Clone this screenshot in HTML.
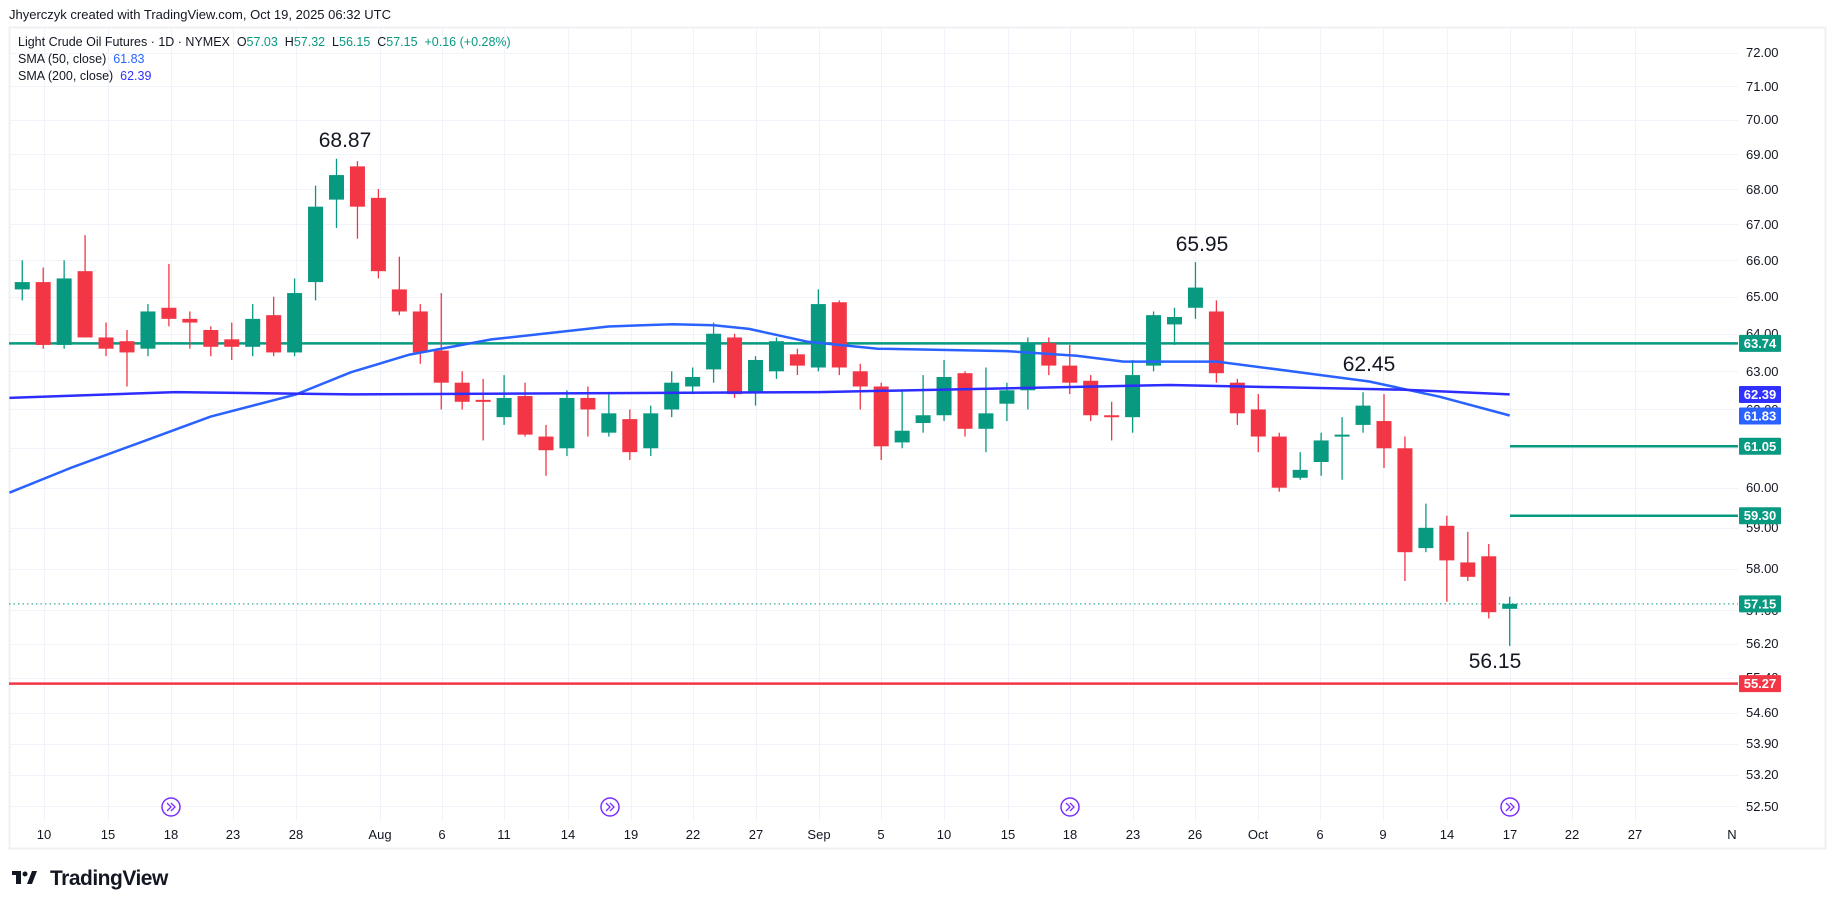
<!DOCTYPE html>
<html><head><meta charset="utf-8"><style>
html,body{margin:0;padding:0;background:#fff;}
svg{display:block;font-family:"Liberation Sans",sans-serif;}
.ax{font-size:13px;fill:#131722;}
.tag{font-size:13px;fill:#fff;font-weight:bold;}
.ann{font-size:21px;fill:#131722;}
.pre{white-space:pre;}
</style></head><body>
<svg id="s" width="1835" height="909" viewBox="0 0 1835 909" xmlns="http://www.w3.org/2000/svg">
<rect x="0" y="0" width="1835" height="909" fill="#fff"/>
<text x="9" y="19" font-size="13" fill="#131722">Jhyerczyk created with TradingView.com, Oct 19, 2025 06:32 UTC</text>
<rect x="9.5" y="27.5" width="1816" height="821" fill="none" stroke="#eef0f3" stroke-width="2"/>
<g id="grid" stroke="#f0f3fa" stroke-width="1"></g>
<g id="lines"></g>
<g id="candles"></g>
<g id="sma"></g>
<text class="pre" xml:space="preserve" x="18" y="46" font-size="12.5" fill="#131722">Light Crude Oil Futures · 1D · NYMEX  O<tspan fill="#089981">57.03</tspan>  H<tspan fill="#089981">57.32</tspan>  L<tspan fill="#089981">56.15</tspan>  C<tspan fill="#089981">57.15</tspan>  <tspan fill="#089981">+0.16 (+0.28%)</tspan></text>
<text class="pre" xml:space="preserve" x="18" y="63" font-size="12.5" fill="#131722">SMA (50, close)  <tspan fill="#2962ff">61.83</tspan></text>
<text class="pre" xml:space="preserve" x="18" y="80" font-size="12.5" fill="#131722">SMA (200, close)  <tspan fill="#3030ff">62.39</tspan></text>
<text class="ann" x="345" y="147" text-anchor="middle">68.87</text>
<text class="ann" x="1202" y="251" text-anchor="middle">65.95</text>
<text class="ann" x="1369" y="371" text-anchor="middle">62.45</text>
<text class="ann" x="1495" y="668" text-anchor="middle">56.15</text>
<g class="ax">
<text x="1746" y="57">72.00</text><text x="1746" y="91">71.00</text><text x="1746" y="124">70.00</text>
<text x="1746" y="159">69.00</text><text x="1746" y="194">68.00</text><text x="1746" y="229">67.00</text>
<text x="1746" y="265">66.00</text><text x="1746" y="301">65.00</text><text x="1746" y="338">64.00</text>
<text x="1746" y="376">63.00</text><text x="1746" y="414">62.00</text><text x="1746" y="453">61.00</text>
<text x="1746" y="492">60.00</text><text x="1746" y="532">59.00</text><text x="1746" y="573">58.00</text>
<text x="1746" y="615">57.00</text><text x="1746" y="648">56.20</text><text x="1746" y="682">55.40</text>
<text x="1746" y="717">54.60</text><text x="1746" y="748">53.90</text><text x="1746" y="779">53.20</text>
<text x="1746" y="811">52.50</text>
</g>
<g id="tags"></g>
<g class="ax" text-anchor="middle" id="dates">
<text x="44" y="839">10</text><text x="108" y="839">15</text><text x="171" y="839">18</text><text x="233" y="839">23</text>
<text x="296" y="839">28</text><text x="380" y="839">Aug</text><text x="442" y="839">6</text><text x="504" y="839">11</text>
<text x="568" y="839">14</text><text x="631" y="839">19</text><text x="693" y="839">22</text><text x="756" y="839">27</text>
<text x="819" y="839">Sep</text><text x="881" y="839">5</text><text x="944" y="839">10</text><text x="1008" y="839">15</text>
<text x="1070" y="839">18</text><text x="1133" y="839">23</text><text x="1195" y="839">26</text><text x="1258" y="839">Oct</text>
<text x="1320" y="839">6</text><text x="1383" y="839">9</text><text x="1447" y="839">14</text><text x="1510" y="839">17</text>
<text x="1572" y="839">22</text><text x="1635" y="839">27</text><text x="1732" y="839">N</text>
</g>
<g id="icons"></g>
<g transform="translate(12,868)">
<rect x="0" y="3" width="9" height="4" fill="#131722"/><rect x="4" y="3" width="5" height="13" fill="#131722"/>
<circle cx="13" cy="6" r="2.5" fill="#131722"/><polygon points="15,16 20,3 25,3 20,16" fill="#131722"/>
</g>
<text x="50" y="885" font-size="21" font-weight="bold" fill="#131722" letter-spacing="-0.5">TradingView</text>
</svg>
<script>
(function(){
var NS="http://www.w3.org/2000/svg";
function el(p,t,a){var e=document.createElementNS(NS,t);for(var k in a)e.setAttribute(k,a[k]);p.appendChild(e);return e;}
function Y(p){return 52.7+(Math.log(72)-Math.log(p))/Math.log(72/52.5)*753.6;}
var PL=9,PR=1738,PT=28,PB=820;
var grid=document.getElementById('grid');
[72,71,70,69,68,67,66,65,64,63,62,61,60,59,58,57,56.2,55.4,54.6,53.9,53.2,52.5].forEach(function(p){var y=Math.round(Y(p))+.5;el(grid,'line',{x1:PL,x2:PR,y1:y,y2:y});});
[44,108,171,233,296,380,442,504,568,631,693,756,819,881,944,1008,1070,1133,1195,1258,1320,1383,1447,1510,1572,1635].forEach(function(x){el(grid,'line',{x1:x+.5,x2:x+.5,y1:PT,y2:PB});});
var D=[[65.1,65.5,64.9,65.3],[65.2,66,64.9,65.4],[65.4,65.8,63.6,63.7],[63.7,66,63.6,65.5],[65.7,66.7,63.9,63.9],[63.9,64.3,63.4,63.6],[63.8,64.1,62.6,63.5],[63.6,64.8,63.4,64.6],[64.7,65.9,64.2,64.4],[64.4,64.6,63.6,64.3],[64.1,64.2,63.4,63.65],[63.85,64.3,63.3,63.65],[63.65,64.8,63.4,64.4],[64.5,65.0,63.4,63.5],[63.5,65.5,63.4,65.1],[65.4,68.1,64.9,67.5],[67.7,68.87,66.9,68.4],[68.65,68.8,66.6,67.5],[67.75,68.0,65.5,65.7],[65.2,66.1,64.5,64.6],[64.6,64.8,63.2,63.5],[63.55,65.1,62.0,62.7],[62.7,63.0,62.0,62.2],[62.25,62.8,61.2,62.2],[61.8,62.9,61.6,62.3],[62.35,62.7,61.3,61.35],[61.3,61.6,60.3,60.95],[61.0,62.5,60.8,62.3],[62.3,62.6,61.3,62.0],[61.4,62.4,61.3,61.9],[61.75,62.0,60.7,60.9],[61.0,62.1,60.8,61.9],[62.0,63.0,61.8,62.7],[62.6,63.1,62.4,62.85],[63.05,64.3,62.7,64.0],[63.9,64.0,62.3,62.4],[62.45,63.4,62.1,63.3],[63.0,63.9,62.8,63.8],[63.45,63.6,62.9,63.15],[63.1,65.2,63.0,64.8],[64.85,64.9,62.9,63.1],[63.0,63.2,62.0,62.6],[62.6,62.7,60.7,61.05],[61.15,62.5,61.0,61.45],[61.65,62.9,61.4,61.85],[61.85,63.3,61.7,62.85],[62.95,63.0,61.3,61.5],[61.5,63.1,60.9,61.9],[62.15,62.7,61.7,62.5],[62.5,63.9,62.0,63.75],[63.75,63.9,62.9,63.15],[63.15,63.7,62.4,62.7],[62.75,62.9,61.7,61.85],[61.85,62.2,61.2,61.8],[61.8,63.3,61.4,62.9],[63.15,64.6,63.0,64.5],[64.25,64.7,63.7,64.45],[64.7,65.95,64.4,65.25],[64.6,64.9,62.7,62.95],[62.7,62.8,61.6,61.9],[62.0,62.4,60.9,61.3],[61.3,61.4,59.9,60.0],[60.25,60.9,60.2,60.45],[60.65,61.4,60.3,61.2],[61.3,61.8,60.2,61.35],[61.6,62.45,61.4,62.1],[61.7,62.4,60.5,61.0],[61.0,61.3,57.7,58.4],[58.5,59.6,58.4,59.0],[59.05,59.3,57.2,58.2],[58.15,58.9,57.7,57.8],[58.3,58.6,56.8,56.95],[57.03,57.32,56.15,57.15]];
var N=D.length;function X(i){return 1509.7-(N-1-i)*20.95;}
var lines=document.getElementById('lines');
function hl(p,x1,col){var y=Y(p);el(lines,'line',{x1:x1,x2:PR,y1:y,y2:y,stroke:col,'stroke-width':2.5});}
hl(63.74,PL,'#089981');hl(61.05,1510,'#089981');hl(59.30,1510,'#089981');hl(55.27,PL,'#f23645');
var yc=Y(57.15);el(lines,'line',{x1:PL,x2:PR,y1:yc,y2:yc,stroke:'#089981','stroke-width':1,'stroke-dasharray':'1.5 3'});
var cg=document.getElementById('candles');
el(document.getElementById('s'),'defs',{}).innerHTML='<clipPath id="cp"><rect x="'+PL+'" y="'+PT+'" width="'+(PR-PL)+'" height="'+(PB-PT)+'"/></clipPath>';
cg.setAttribute('clip-path','url(#cp)');
D.forEach(function(d,i){var x=X(i),up=d[3]>=d[0],c=up?'#089981':'#f23645';
el(cg,'line',{x1:x,x2:x,y1:Y(d[1]),y2:Y(d[2]),stroke:c,'stroke-width':1.3});
var t=Y(Math.max(d[0],d[3])),b=Y(Math.min(d[0],d[3]));if(b-t<2){b=t+2;}
el(cg,'rect',{x:x-7.5,y:t,width:15,height:b-t,fill:c});});
var k=1.1703,sg=document.getElementById('sma');
function path(pts,col){var s='';pts.forEach(function(p,i){s+=(i?'L':'M')+(p[0]*k).toFixed(1)+' '+(p[1]*k).toFixed(1);});el(sg,'path',{d:s,fill:'none',stroke:col,'stroke-width':2.5,'stroke-linejoin':'round'});}
path([[8,421],[60,400],[120,378],[180,356],[253,337],[300,318],[350,303],[420,290],[520,279],[575,277],[610,278],[640,281],[690,292],[750,298],[860,300],[920,304],[960,309],[1040,309],[1110,318],[1170,326],[1230,339],[1290,355]],'#2962ff');
path([[8,340],[150,335],[300,337],[500,336],[700,335],[900,331],[1000,329],[1100,331],[1200,333],[1290,337]],'#2d2dff');
var tg=document.getElementById('tags');
[[63.74,'#089981'],[62.39,'#3030ff'],[61.83,'#2962ff'],[61.05,'#089981'],[59.30,'#089981'],[57.15,'#089981'],[55.27,'#f23645']].forEach(function(t){var y=Y(t[0]);
el(tg,'rect',{x:1739,y:y-8.5,width:42,height:17,fill:t[1],rx:1});
var tx=el(tg,'text',{x:1760,y:y+4.5,'text-anchor':'middle','class':'tag'});tx.textContent=t[0].toFixed(2);});
var ic=document.getElementById('icons');
[171,610,1070,1510].forEach(function(x){el(ic,'circle',{cx:x,cy:807,r:9,fill:'#fff',stroke:'#7b2fff','stroke-width':1.5});
el(ic,'path',{d:'M'+(x-4)+' 803 L'+(x)+' 807 L'+(x-4)+' 811 M'+(x)+' 803 L'+(x+4)+' 807 L'+x+' 811',fill:'none',stroke:'#7b2fff','stroke-width':1.3});});
})();
</script>
</body></html>
